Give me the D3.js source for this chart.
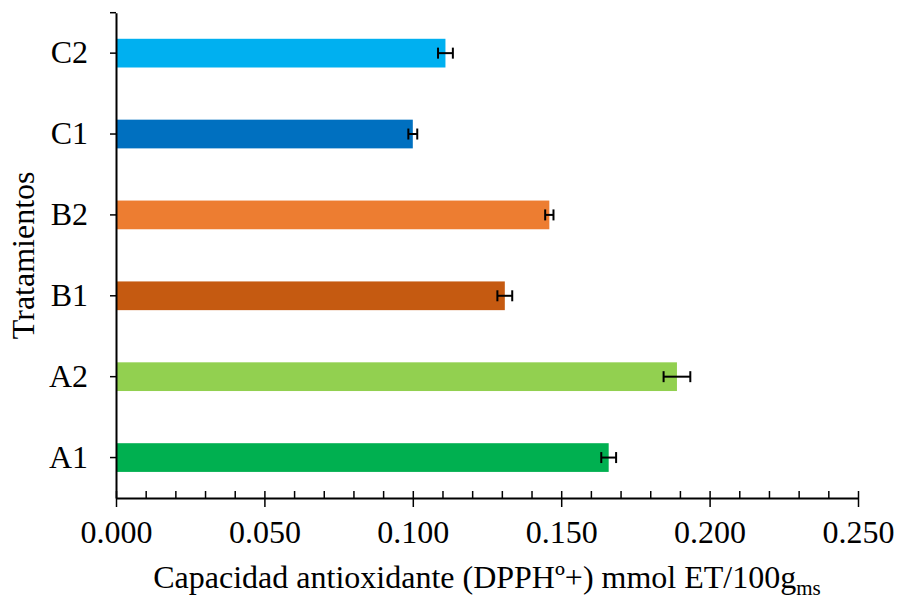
<!DOCTYPE html>
<html>
<head>
<meta charset="utf-8">
<script src="https://cdn.jsdelivr.net/npm/d3@7"></script>
<style>
  html, body { margin: 0; padding: 0; background: #fff; }
  svg { display: block; }
  svg text { font-family: "Liberation Serif", "Times New Roman", serif; }
</style>
</head>
<body>
<svg id="chart" width="897" height="599"></svg>
<script>
// Treatments, listed top to bottom
const categories = ["C2", "C1", "B2", "B1", "A2", "A1"];
// Antioxidant capacity (DPPH) mmol ET/100 g dry matter
const values = [0.111, 0.100, 0.146, 0.131, 0.189, 0.166];
// Error bar half-widths
const errors = [0.0025, 0.0015, 0.0014, 0.0025, 0.0045, 0.0025];
const colors = ["#00B0F0", "#0070C0", "#ED7D31", "#C55A11", "#92D050", "#00B050"];
const majorTicks = [0, 0.05, 0.10, 0.15, 0.20, 0.25];
const minorTicks = d3.range(0, 26).map(i => i / 100);

const svg = d3.select("#chart");
const plotLeft = 116, plotRight = 858, plotTop = 12.7, plotBottom = 498;
const fontSize = 32;
const serif = "Liberation Serif";

const x = d3.scaleLinear().domain([0, 0.25]).range([plotLeft, plotRight]);
const y = d3.scaleBand().domain(categories).range([plotTop, plotBottom])
  .paddingInner(0.645).paddingOuter(0.3225);

const rows = categories.map((c, i) => ({ c, v: values[i], e: errors[i], col: colors[i] }));

// Bars
svg.append("g").selectAll("rect").data(rows).join("rect")
  .attr("x", x(0))
  .attr("y", d => y(d.c))
  .attr("width", d => x(d.v) - x(0))
  .attr("height", y.bandwidth())
  .attr("fill", d => d.col);

// Error bars
const eb = svg.append("g").attr("stroke", "#000").attr("stroke-width", 2);
rows.forEach(d => {
  const cy = y(d.c) + y.bandwidth() / 2;
  const x1 = x(d.v - d.e), x2 = x(d.v + d.e);
  eb.append("line").attr("x1", x1).attr("x2", x2).attr("y1", cy).attr("y2", cy);
  eb.append("line").attr("x1", x1).attr("x2", x1).attr("y1", cy - 5.5).attr("y2", cy + 5.5);
  eb.append("line").attr("x1", x2).attr("x2", x2).attr("y1", cy - 5.5).attr("y2", cy + 5.5);
});

// X axis: minor ticks pointing up
svg.append("g").attr("transform", `translate(0,${plotBottom})`)
  .call(d3.axisTop(x).tickValues(minorTicks).tickSize(7).tickSizeOuter(0).tickFormat(""))
  .call(g => g.select(".domain").remove())
  .call(g => g.selectAll("line").attr("stroke-width", 1.5));

// X axis: major ticks pointing down, with labels
svg.append("g").attr("transform", `translate(0,${plotBottom})`)
  .call(d3.axisBottom(x).tickValues(majorTicks).tickSizeInner(9).tickSizeOuter(0)
    .tickPadding(13).tickFormat(d3.format(".3f")))
  .call(g => g.select(".domain").attr("stroke-width", 2))
  .call(g => g.selectAll("line").attr("stroke-width", 1.5))
  .call(g => g.selectAll("text").attr("font-size", fontSize)
    .attr("font-family", serif).attr("fill", "#000"));

// Y axis
svg.append("g").attr("transform", `translate(${plotLeft},0)`)
  .call(d3.axisLeft(y).tickSizeInner(6).tickSizeOuter(0).tickPadding(22))
  .call(g => g.select(".domain").attr("stroke-width", 2))
  .call(g => g.selectAll("line").attr("stroke-width", 1.5))
  .call(g => g.selectAll("text").attr("font-size", fontSize)
    .attr("font-family", serif).attr("fill", "#000"));

// Top end stub of the y axis
svg.append("line").attr("x1", plotLeft - 6).attr("x2", plotLeft)
  .attr("y1", plotTop).attr("y2", plotTop).attr("stroke", "#000").attr("stroke-width", 1.5);

// Axis titles
const xt = svg.append("text")
  .attr("x", (plotLeft + plotRight) / 2).attr("y", 588)
  .attr("text-anchor", "middle").attr("font-family", serif)
  .attr("font-size", fontSize).attr("fill", "#000");
xt.append("tspan").text("Capacidad antioxidante (DPPHº+) mmol ET/100g");
xt.append("tspan").attr("font-size", 21).attr("dy", 7).text("ms");

svg.append("text")
  .attr("transform", `translate(34,${(plotTop + plotBottom) / 2}) rotate(-90)`)
  .attr("text-anchor", "middle").attr("font-family", serif)
  .attr("font-size", fontSize).attr("fill", "#000")
  .text("Tratamientos");
</script>
</body>
</html>
